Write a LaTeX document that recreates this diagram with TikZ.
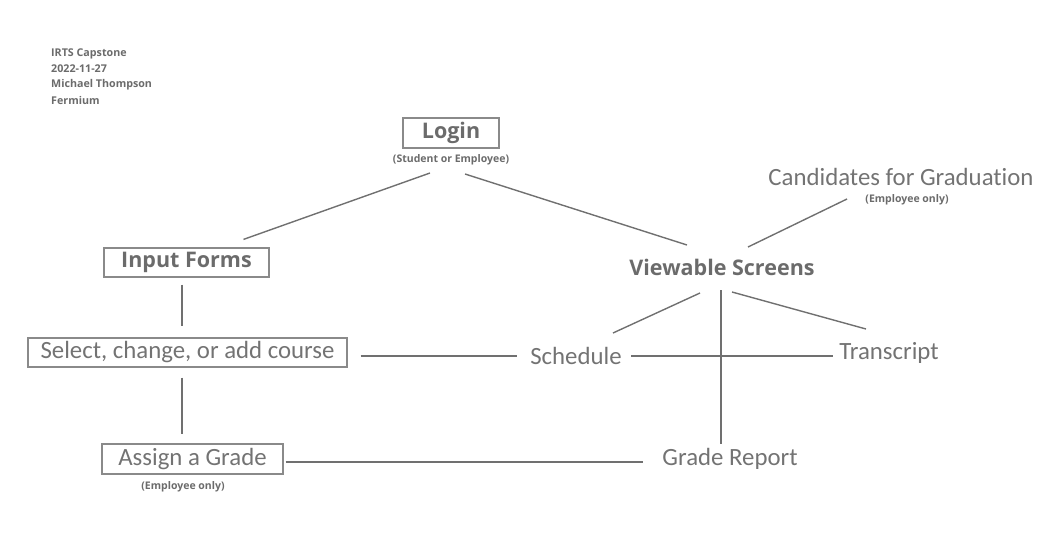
\documentclass[tikz,border=0pt]{standalone}
\usepackage{fontspec}
\setmainfont{Open Sans}
\newfontfamily\thinfont[Ligatures=NoCommon]{Carlito}
\definecolor{ink}{HTML}{6B6B6B}
\definecolor{softink}{HTML}{737373}
\definecolor{frame}{HTML}{8A8A8A}
\definecolor{wire}{HTML}{707070}
\begin{document}
\begin{tikzpicture}[x=1pt,y=-1pt,
header/.style={anchor=west,text=ink,font=\fontsize{10.7}{12}\selectfont\bfseries,inner sep=0pt},
title/.style={text=ink,font=\fontsize{21.5}{24}\selectfont\bfseries},
plain/.style={text=softink,font=\thinfont\fontsize{24.8}{28}\selectfont},
box/.style={draw=frame,line width=1.2pt,inner sep=0pt},
note/.style={text=ink,font=\fontsize{10.5}{12}\selectfont\bfseries,inner sep=0pt},
link/.style={draw=wire,line width=1.4pt}]
\useasboundingbox (0,0) rectangle (1063,549);
% header
\node[header] (h1) at (51,54) {IRTS Capstone};
\node[header] (h2) at (51,69) {2022-11-27};
\node[header] (h3) at (51,85) {Michael Thompson};
\node[header] (h4) at (51,100) {Fermium};
% boxes
\node[box,title,minimum width=96pt,minimum height=30pt] (login) at (451,133) {Login};
\node[note] (loginsub) at (451,160) {(Student or Employee)};
\node[box,title,minimum width=165pt,minimum height=29pt] (inputforms) at (186.5,262.5) {Input Forms};
\node[box,plain,minimum width=319pt,minimum height=29pt] (select) at (187.5,352.5) {Select, change, or add course};
\node[box,plain,minimum width=181pt,minimum height=30pt] (assign) at (192.5,459) {Assign a Grade};
\node[note] (assignsub) at (183,487) {(Employee only)};
% screens
\node[title] (viewable) at (722,267) {Viewable Screens};
\node[plain] (cands) at (901,177) {Candidates for Graduation};
\node[note] (candssub) at (907,200) {(Employee only)};
\node[plain] (schedule) at (576,356) {Schedule};
\node[plain] (transcript) at (889,353) {Transcript};
\node[plain] (gradereport) at (730,459) {Grade Report};
% connectors
\draw[link] ([xshift=-21pt,yshift=-13pt]loginsub.center) -- ([xshift=57pt,yshift=8pt]inputforms.north);
\draw[link] ([xshift=14pt,yshift=-14pt]loginsub.center) -- ([xshift=-35pt,yshift=22pt]viewable.center);
\draw[link] ([xshift=-60pt,yshift=1pt]candssub.center) -- ([xshift=26pt,yshift=20pt]viewable.center);
\draw[link] ([xshift=-4.5pt,yshift=-7pt]inputforms.south) -- ([xshift=-5.5pt,yshift=11pt]select.north);
\draw[link] ([xshift=-5.5pt,yshift=-10pt]select.south) -- ([xshift=-10.5pt,yshift=9pt]assign.north);
\draw[link] ([xshift=13pt,yshift=-3.5pt]select.east) -- ([xshift=-59pt]schedule.center);
\draw[link] ([xshift=55pt]schedule.center) -- ([xshift=-56pt,yshift=-3pt]transcript.center);
\draw[link] ([xshift=-22pt,yshift=-26pt]viewable.center) -- ([xshift=37pt,yshift=23pt]schedule.center);
\draw[link] ([xshift=10pt,yshift=-25pt]viewable.center) -- ([xshift=-23pt,yshift=24pt]transcript.center);
\draw[link] ([xshift=-1pt,yshift=-23pt]viewable.center) -- ([xshift=-9pt,yshift=15pt]gradereport.center);
\draw[link] ([xshift=2pt,yshift=-3pt]assign.east) -- ([xshift=-87pt,yshift=-3pt]gradereport.center);
\end{tikzpicture}
\end{document}
